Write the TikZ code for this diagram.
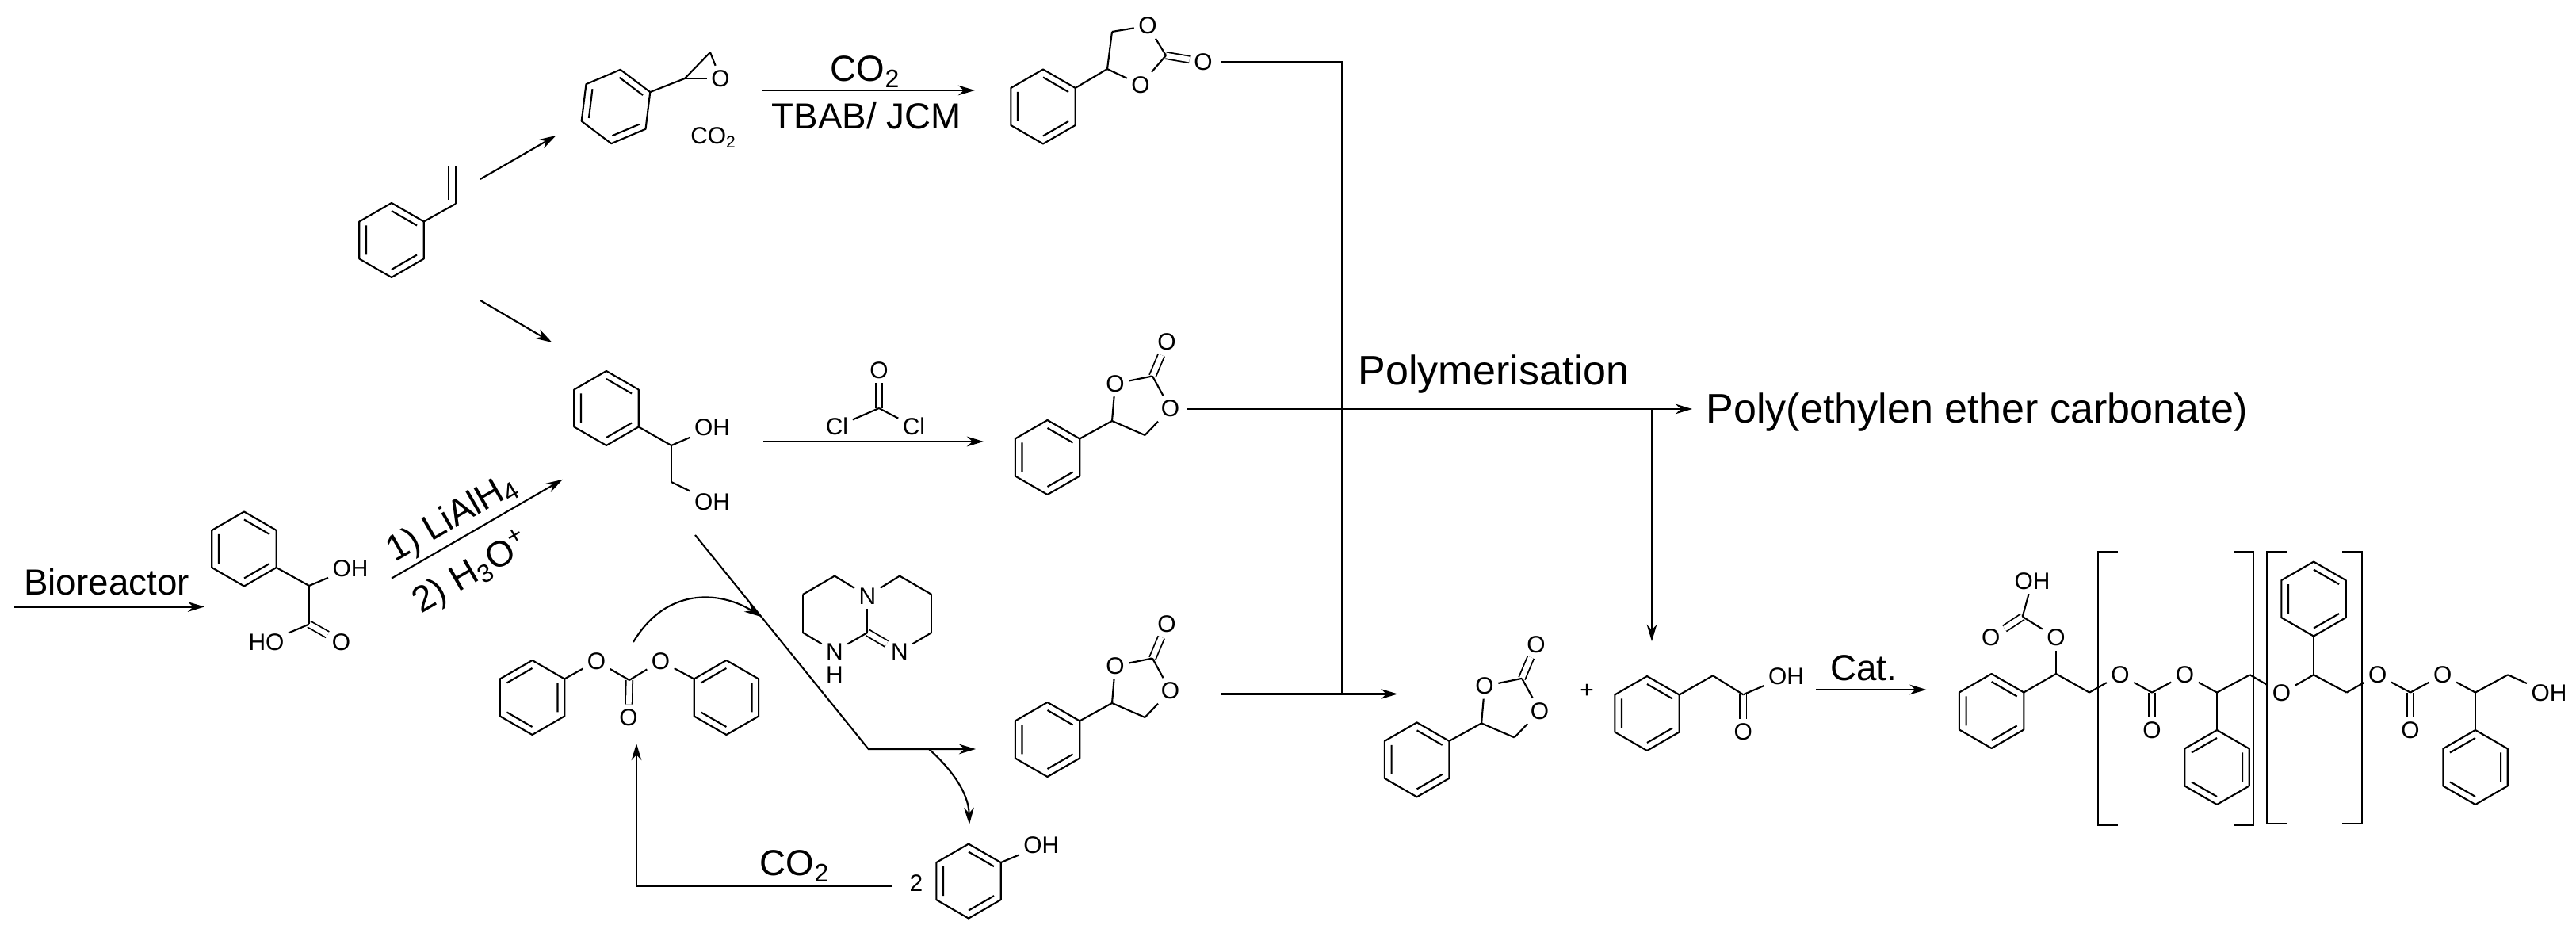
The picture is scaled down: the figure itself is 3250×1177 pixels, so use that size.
\documentclass[tikz,border=0pt]{standalone}
\usepackage{fontspec}
\setmainfont{Liberation Sans}
\usepackage{tkz-euclide}
\usetikzlibrary{arrows.meta}

\tikzset{
  bond/.style={line width=.6pt},
  dbl/.style={line width=.5pt,double,double distance=1.9pt},
  rxn/.style={line width=.6pt,-{Stealth[length=6pt,width=3.6pt]}},
  link/.style={line width=.6pt},
  atom/.style={font=\fontsize{8.5}{10}\selectfont,inner sep=1.4pt},
  lab/.style={font=\fontsize{13}{15}\selectfont,inner sep=0pt},
  big/.style={font=\fontsize{14.8}{17}\selectfont,inner sep=0pt},
}

\newcommand{\bonds}[1]{\foreach \p/\q in {#1} \draw[bond] (\p) -- (\q);}

\newcommand{\phenyl}[4]{%
  \begin{scope}[shift={(#2,#3)},rotate=#4]
    \foreach \k in {0,...,5} \coordinate (#1\k) at (\k*60:47);
    \tkzDrawPolygon[bond](#10,#11,#12,#13,#14,#15)
    \draw[bond] (0:37) -- (60:37) (120:37) -- (180:37) (240:37) -- (300:37);
  \end{scope}}

\newcommand{\carbonate}[3]{%
  \phenyl{#1Ph}{#2}{#3}{90}
  \begin{scope}[shift={(#2,#3)}]
    \tkzDefPoints{81.5/-46/#1A,123/-28/#1B,132.5/-102.5/#1C}
    \node[atom] (#1O1) at (85.5,-93) {O};
    \node[atom] (#1O2) at (155,-61.5) {O};
    \node[atom] (#1O3) at (150.5,-145.3) {O};
  \end{scope}
  \draw[dbl] (#1C) -- (#1O3);
  \bonds{#1Ph1/#1A,#1A/#1B,#1A/#1O1,#1O1/#1C,#1C/#1O2,#1O2/#1B}}

\begin{document}
\begin{tikzpicture}[x=.01cm,y=-.01cm]
  \useasboundingbox (0,0) rectangle (3250,1177);
  % styrene and epoxide
  \phenyl{st}{494}{303}{90}
  \tkzDefPoints{575/257/stA,575/210/stB,566/252/stC,566/210/stD}
  \bonds{st1/stA,stA/stB,stC/stD}
  \phenyl{eo}{777}{134.5}{83}
  \tkzDefPoints{864/99/eoA,896/66/eoB}
  \node[atom] (eoO) at (909,99) {O};
  \bonds{eo1/eoA,eoA/eoB,eoA/eoO,eoB/eoO}
  \node[atom] (co2a) at (900.5,174) {CO\textsubscript{2}};
  \tkzDefPoints{606/226/a1,701.5/171/a2,606/379/a3,696.5/432/a4}
  \draw[rxn] (a1) -- (a2);
  \draw[rxn] (a3) -- (a4);

  % top cyclic carbonate
  \tkzDefPoints{962/114/b1,1230/114/b2}
  \draw[rxn] (b1) -- (b2);
  \node[lab,anchor=base] (b3) at (1092,103) {CO\textsubscript{2}};
  \node[lab,anchor=base] (b4) at (1093,163) {TBAB/ JCM};
  \phenyl{ec}{1316}{134.5}{90}
  \tkzDefPoints{1397/87/ecA,1403/40/ecB,1471/70/ecC}
  \node[atom] (ecO1) at (1448,32.5) {O};
  \node[atom] (ecO2) at (1439,107) {O};
  \node[atom] (ecO3) at (1518,78) {O};
  \draw[dbl] (ecC) -- (ecO3);
  \bonds{ec1/ecA,ecA/ecB,ecB/ecO1,ecO1/ecC,ecC/ecO2,ecO2/ecA}

  % diol and phosgene
  \phenyl{dl}{765}{515}{90}
  \tkzDefPoints{847/562/dlA,847/608/dlB}
  \node[atom] (dlO1) at (898.6,539.6) {OH};
  \node[atom] (dlO2) at (898.6,633.3) {OH};
  \bonds{dl2/dlA,dlA/dlB,dlA/dlO1,dlB/dlO2}
  \tkzDefPoints{963/557/c1,1241/557/c2,1109/515/pgC}
  \draw[rxn] (c1) -- (c2);
  \node[atom] (pgO) at (1109,467) {O};
  \node[atom] (pgL) at (1056,538) {Cl};
  \node[atom] (pgR) at (1153,538) {Cl};
  \draw[dbl] (pgC) -- (pgO);
  \bonds{pgC/pgL,pgC/pgR}
  \carbonate{mc}{1321.5}{577}

  % mandelic acid
  \tkzDefPoints{18/765.5/d1,258/765.5/d2}
  \draw[rxn] (d1) -- (d2);
  \node[lab,anchor=base] (d3) at (134.5,751) {Bioreactor};
  \phenyl{ma}{308}{692.5}{90}
  \tkzDefPoints{390/739/maA,390/787.5/maB}
  \node[atom] (maO1) at (442,717) {OH};
  \node[atom] (maO2) at (336,810.4) {HO};
  \node[atom] (maO3) at (430.5,810.4) {O};
  \draw[dbl] (maB) -- (maO3);
  \bonds{ma2/maA,maA/maB,maA/maO1,maB/maO2}
  \tkzDefPoints{494/729.7/e1,710/604.8/e2}
  \draw[rxn] (e1) -- (e2);
  \node[lab,rotate=30] (e3) at (571,654) {1) LiAlH\textsubscript{4}};
  \node[lab,rotate=30] (e4) at (596,723) {2) H\textsubscript{3}O\textsuperscript{+}};

  % diphenyl carbonate route
  \phenyl{dpL}{671.5}{880}{150}
  \phenyl{dpR}{916.4}{880}{150}
  \tkzDefPoints{794/858/dpC}
  \node[atom] (dpO1) at (752.5,834) {O};
  \node[atom] (dpO2) at (833.5,834) {O};
  \node[atom] (dpO3) at (793,904.8) {O};
  \draw[dbl] (dpC) -- (dpO3);
  \bonds{dpL2/dpO1,dpO1/dpC,dpC/dpO2,dpO2/dpR0}
  \node[atom] (tbN1) at (1094.4,752) {N};
  \node[atom] (tbN2) at (1053,822) {N};
  \node[atom] (tbH) at (1053,851) {H};
  \node[atom] (tbN3) at (1135,822) {N};
  \tkzDefPoints{1053/726.6/tb1,1012.8/750/tb2,1012.8/798/tb3,1094.4/798/tb4,1135/726.6/tb5,1175.4/750/tb6,1175.4/798/tb7}
  \draw[dbl] (tb4) -- (tbN3);
  \bonds{tbN1/tb1,tb1/tb2,tb2/tb3,tb3/tbN2,tbN2/tb4,tb4/tbN1,tbN1/tb5,tb5/tb6,tb6/tb7,tb7/tbN3}
  \tkzDefPoints{877/675/f1,1095.7/945/f2,1231/945/f3,799/810/f4,960/778/f5,1172/945/f6,1223/1040/f7}
  \draw[rxn] (f1) -- (f2) -- (f3);
  \draw[rxn] (f4) .. controls (844,735) and (916,749) .. (f5);
  \draw[rxn] (f6) .. controls (1200,970) and (1222,1000) .. (f7);
  \carbonate{lc}{1321.5}{933}
  \phenyl{ph}{1222}{1111.6}{90}
  \node[atom] (phO) at (1313.8,1066.7) {OH};
  \bonds{ph1/phO}
  \node[atom] (two) at (1156,1114) {2};
  \tkzDefPoints{1126/1118/g1,803/1118/g2,803/938/g3}
  \draw[rxn] (g1) -- (g2) -- (g3);
  \node[lab,anchor=base] (g4) at (1003,1105) {CO\textsubscript{2}};

  % connectors to polymerisation
  \tkzDefPoints{1541/78.5/h1,1692.6/78.5/h2,1692.6/875.5/h3,1541/875.5/h4,1763.4/875.5/h5}
  \draw[link] (h1) -- (h2) -- (h3);
  \draw[rxn] (h4) -- (h5);
  \tkzDefPoints{1497.4/516/i1,2135/516/i2,2084/516/i3,2084/809/i4}
  \draw[rxn] (i1) -- (i2);
  \draw[rxn] (i3) -- (i4);
  \node[big,anchor=base west] (i5) at (1713,486) {Polymerisation};
  \node[big,anchor=base west] (i6) at (2152,534) {Poly(ethylen ether carbonate)};

  % monomers
  \carbonate{rc}{1787.6}{958.4}
  \node[atom] (plus) at (2002,872) {+};
  \phenyl{pa}{2078}{900}{90}
  \tkzDefPoints{2161/852.3/paA,2199.3/876.3/paB}
  \node[atom] (paO1) at (2253.5,853) {OH};
  \node[atom] (paO2) at (2199.3,923.6) {O};
  \draw[dbl] (paB) -- (paO2);
  \bonds{pa1/paA,paA/paB,paB/paO1}
  \tkzDefPoints{2291/870/j1,2430.5/870/j2}
  \draw[rxn] (j1) -- (j2);
  \node[lab,anchor=base] (j3) at (2351,859) {Cat.};

  % polymer chain
  \phenyl{pP}{2512.6}{897}{90}
  \phenyl{pQ}{2797}{968}{150}
  \phenyl{pR}{2919}{755.6}{90}
  \phenyl{pS}{3123}{968}{150}
  \tkzDefPoints{2594/850/k1,2551.7/778/k2,2636/873.6/k3,2715/873.6/k4,2797/873.6/k5,2838.6/851.3/k6,2919/851.3/k7,2960.6/873.6/k8,3041/873.6/k9,3123/873.6/k10,3164/851.3/k11}
  \node[atom] (mO1) at (2594,804.4) {O};
  \node[atom] (mO2) at (2511.8,804.4) {O};
  \node[atom] (mO3) at (2564,733) {OH};
  \node[atom] (mO4) at (2675,851.3) {O};
  \node[atom] (mO5) at (2715,921.5) {O};
  \node[atom] (mO6) at (2756.5,851.3) {O};
  \node[atom] (mO7) at (2878.5,874.6) {O};
  \node[atom] (mO8) at (2999.7,851.3) {O};
  \node[atom] (mO9) at (3041,921.5) {O};
  \node[atom] (mO10) at (3081.8,851.3) {O};
  \node[atom] (mO11) at (3216,874.6) {OH};
  \draw[dbl] (k2) -- (mO2);
  \draw[dbl] (k4) -- (mO5);
  \draw[dbl] (k9) -- (mO9);
  \bonds{pP1/k1,k1/mO1,mO1/k2,k2/mO3,k1/k3,k3/mO4,mO4/k4,k4/mO6,mO6/k5,k5/pQ1,k5/k6,k6/mO7,mO7/k7,k7/pR3,k7/k8,k8/mO8,mO8/k9,k9/mO10,mO10/k10,k10/pS1,k10/k11,k11/mO11}
  \draw[link] (2672,696.5) -- (2647.3,696.5) -- (2647.3,1041) -- (2672,1041);
  \draw[link] (2818.7,696.5) -- (2842.6,696.5) -- (2842.6,1041) -- (2818.7,1041);
  \draw[link] (2885,696.5) -- (2860,696.5) -- (2860,1039) -- (2885,1039);
  \draw[link] (2955,696.5) -- (2979.8,696.5) -- (2979.8,1039) -- (2955,1039);
\end{tikzpicture}
\end{document}
